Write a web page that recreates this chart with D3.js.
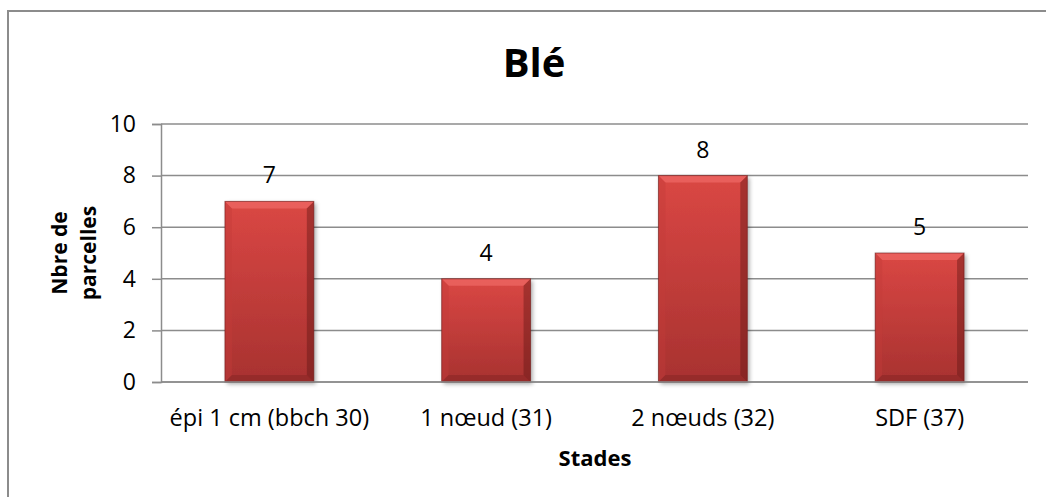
<!DOCTYPE html>
<html><head><meta charset="utf-8">
<script src="https://cdn.jsdelivr.net/npm/d3@7"></script>
<style>body{margin:0;background:#fff}svg{display:block}text{font-family:"Open Sans",sans-serif}</style>
</head><body>
<svg id="c" width="1046" height="497"></svg>
<script>
const categories = ["épi 1 cm (bbch 30)", "1 nœud (31)", "2 nœuds (32)", "SDF (37)"];
const values = [7, 4, 8, 5];
const yTicks = [0, 2, 4, 6, 8, 10];
const title = "Blé";
const xTitle = "Stades";
const yTitleLines = ["Nbre de", "parcelles"];

const svg = d3.select("#c");
const L = 161, R = 1028, T = 124, B = 382;

// outer border
svg.append("rect").attr("x", 8).attr("y", 11).attr("width", 1100).attr("height", 600)
  .attr("fill", "#fff").attr("stroke", "#8c8c8c").attr("stroke-width", 2);

const x = d3.scaleBand().domain(categories).range([L, R]).padding(0);
const y = d3.scaleLinear().domain([0, 10]).range([B, T]);

const defs = svg.append("defs");
const g = defs.append("linearGradient").attr("id", "bar").attr("x1", 0).attr("y1", 0).attr("x2", 0).attr("y2", 1);
g.append("stop").attr("offset", "0%").attr("stop-color", "#da4744");
g.append("stop").attr("offset", "100%").attr("stop-color", "#a83230");
const f = defs.append("filter").attr("id", "sh").attr("x", "-20%").attr("y", "-20%").attr("width", "150%").attr("height", "150%");
f.append("feDropShadow").attr("dx", 2).attr("dy", 2).attr("stdDeviation", 2).attr("flood-color", "#000").attr("flood-opacity", 0.35);

// gridlines
svg.append("g").selectAll("line").data(yTicks).join("line")
  .attr("x1", L).attr("x2", R).attr("y1", d => y(d)).attr("y2", d => y(d))
  .attr("stroke", "#8c8c8c").attr("stroke-width", 1.5);

// y axis
const yAxis = svg.append("g").attr("transform", `translate(${L},0)`)
  .call(d3.axisLeft(y).tickValues(yTicks).tickSize(9).tickPadding(16));
yAxis.select(".domain").attr("stroke", "#8c8c8c").attr("stroke-width", 1.5);
yAxis.selectAll(".tick line").attr("stroke", "#8c8c8c").attr("stroke-width", 1.5);
yAxis.selectAll("text").attr("font-size", 23).attr("fill", "#000").attr("font-family", "Open Sans");

// bars
const bw = x.bandwidth() * 0.41;
const bars = svg.append("g").selectAll("g").data(values).join("g")
  .attr("transform", (d, i) => `translate(${x(categories[i]) + (x.bandwidth() - bw) / 2},0)`);
bars.append("rect").attr("x", 0).attr("y", d => y(d)).attr("width", bw).attr("height", d => B - y(d))
  .attr("fill", "url(#bar)").attr("filter", "url(#sh)");
const bv = 7;
bars.append("polygon").attr("points", d => `0,${y(d)} ${bw},${y(d)} ${bw - bv},${y(d) + bv} ${bv},${y(d) + bv}`)
  .attr("fill", "#f06a66").attr("opacity", 0.7);
bars.append("polygon").attr("points", d => `0,${y(d)} ${bv},${y(d) + bv} ${bv},${B - bv} 0,${B}`)
  .attr("fill", "#c33c39").attr("opacity", 0.4);
bars.append("polygon").attr("points", d => `${bw},${y(d)} ${bw},${B} ${bw - bv},${B - bv} ${bw - bv},${y(d) + bv}`)
  .attr("fill", "#5a1412").attr("opacity", 0.4);
bars.append("polygon").attr("points", d => `0,${B} ${bw},${B} ${bw - bv},${B - bv} ${bv},${B - bv}`)
  .attr("fill", "#7a201e").attr("opacity", 0.4);
bars.append("rect").attr("x", 0).attr("y", d => y(d)).attr("width", bw).attr("height", d => B - y(d))
  .attr("fill", "none").attr("stroke", "#6a1c1a").attr("stroke-width", 1).attr("opacity", 0.6);

// value labels
svg.append("g").selectAll("text").data(values).join("text")
  .attr("x", (d, i) => x(categories[i]) + x.bandwidth() / 2)
  .attr("y", d => y(d) - 18)
  .attr("text-anchor", "middle").attr("font-size", 23).attr("fill", "#000")
  .text(d => d);

// x axis line
svg.append("line").attr("x1", L).attr("x2", R).attr("y1", B).attr("y2", B)
  .attr("stroke", "#8c8c8c").attr("stroke-width", 1.5);

// x labels
svg.append("g").selectAll("text").data(categories).join("text")
  .attr("x", d => x(d) + x.bandwidth() / 2).attr("y", 426)
  .attr("text-anchor", "middle").attr("font-size", 23.5).attr("fill", "#000")
  .text(d => d);

// titles
svg.append("text").attr("x", 534).attr("y", 77).attr("text-anchor", "middle")
  .attr("font-size", 40).attr("font-weight", "bold").attr("fill", "#000").text(title);
svg.append("text").attr("x", 595).attr("y", 466).attr("text-anchor", "middle")
  .attr("font-size", 22).attr("font-weight", "bold").attr("fill", "#000").text(xTitle);
const yt = svg.append("text").attr("transform", "translate(67,253) rotate(-90)")
  .attr("text-anchor", "middle").attr("font-size", 21).attr("font-weight", "bold").attr("fill", "#000");
yTitleLines.forEach((t, i) => yt.append("tspan").attr("x", 0).attr("dy", i === 0 ? 0 : 29).text(t));
</script>
</body></html>
